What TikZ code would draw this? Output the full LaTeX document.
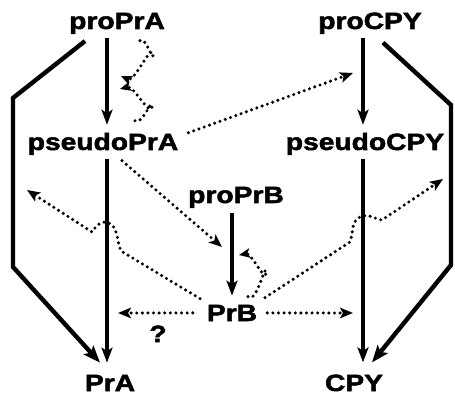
\documentclass[tikz,border=0pt]{standalone}
\usepackage{fontspec}
\newfontfamily\lab{Liberation Sans}[BoldFeatures={FakeStretch=1.2,FakeBold=2.2}]
\usetikzlibrary{arrows.meta,calc}
\begin{document}
\begin{tikzpicture}[x=1pt,y=-1pt,
  lbl/.style={font=\lab\bfseries\fontsize{23.5}{23.5}\selectfont, inner sep=0pt, anchor=base},
  solidarr/.style={line width=3.2pt, -{Stealth[length=15pt,width=11pt,inset=3.5pt]}},
  bracket/.style={line width=4.4pt, line join=miter, -{Stealth[length=17pt,width=13pt,inset=3.5pt]}},
  dotarr/.style={line width=3.4pt, dash pattern=on 0pt off 5.6pt, line cap=round, -{Stealth[length=13pt,width=10.5pt,inset=3pt]}},
  looparr/.style={dotarr, -{Stealth[length=11pt,width=9.5pt,inset=2.5pt]}}]
\useasboundingbox (0,0) rectangle (455,398);
% labels
\node[lbl] (proPrA) at (117,29) {proPrA};
\node[lbl] (proCPY) at (370,29) {proCPY};
\node[lbl] (pseudoPrA) at (103,150) {pseudoPrA};
\node[lbl] (pseudoCPY) at (365,150) {pseudoCPY};
\node[lbl] (proPrB) at (236,203) {proPrB};
\node[lbl] (PrB) at (232,321) {PrB};
\node[lbl] (PrA) at (110,391) {PrA};
\node[lbl] (CPY) at (354,391) {CPY};
\node[lbl] (q) at (158,342) {?};
% solid vertical arrows
\draw[solidarr] ($(proPrA.south)+(-10,3.6)$) -- ($(pseudoPrA.north)+(4,-8)$);
\draw[solidarr] ($(pseudoPrA.south)+(4,3.6)$) -- ($(PrA.north)+(-3,-12)$);
\draw[solidarr] ($(proCPY.south)+(-7,3.6)$) -- ($(pseudoCPY.north)+(-2,-8)$);
\draw[solidarr] ($(pseudoCPY.south)+(-2,3.6)$) -- ($(CPY.north)+(9,-12)$);
\draw[solidarr] ($(proPrB.south)+(-4,4.6)$) -- ($(PrB.north)+(0,-9)$);
% brackets
\coordinate (lc1) at (13,98);
\coordinate (lc2) at (13,267);
\coordinate (rc1) at (451,105);
\coordinate (rc2) at (451,265);
\draw[bracket] ($(proPrA.south)+(-32,7)$) -- (lc1) -- (lc2) -- ($(PrA.north)+(-10,-12)$);
\draw[bracket] ($(proCPY.south)+(13,8.6)$) -- (rc1) -- (rc2) -- ($(CPY.north)+(18,-12)$);
% feedback loops
\coordinate (tA) at (121,76);
\coordinate (tB) at (120,89);
\coordinate (tC) at (239,255);
\draw[looparr] ($(proPrA.south)+(23,6.6)$) to[out=40,in=-90] (153,55) to[out=90,in=-25] (tA);
\draw[looparr] ($(pseudoPrA.north)+(32,-12)$) to[out=-35,in=90] (152,106) to[out=-90,in=15] (tB);
\draw[looparr] ($(PrB.north)+(16,-8)$) to[out=-45,in=90] (266,272) to[out=-90,in=10] (tC);
% other dotted arrows
\coordinate (tD) at (353,73);
\coordinate (tE) at (222,247);
\draw[dotarr] ($(pseudoPrA.north east)+(10,0)$) -- (tD);
\draw[dotarr] ($(pseudoPrA.south)+(19,5.6)$) -- (tE);
\coordinate (tL) at (27,190);
\coordinate (tR) at (443,179);
\draw[dotarr] ($(PrB.north)+(-32,-6)$) -- (121,251) .. controls (116,240) and (119,225) .. (106,222) .. controls (99,221) and (95,228) .. (92,232) -- (tL);
\draw[dotarr] ($(PrB.north)+(33,-7)$) -- (350,242) .. controls (354,232) and (350,219) .. (363,216) .. controls (371,214) and (376,220) .. (382,220) -- (tR);
\coordinate (hl) at (118,313);
\coordinate (hr) at (353,313);
\draw[dotarr] ($(PrB.west)+(-14,0)$) -- (hl);
\draw[dotarr] ($(PrB.east)+(10,0)$) -- (hr);
\end{tikzpicture}
\end{document}
